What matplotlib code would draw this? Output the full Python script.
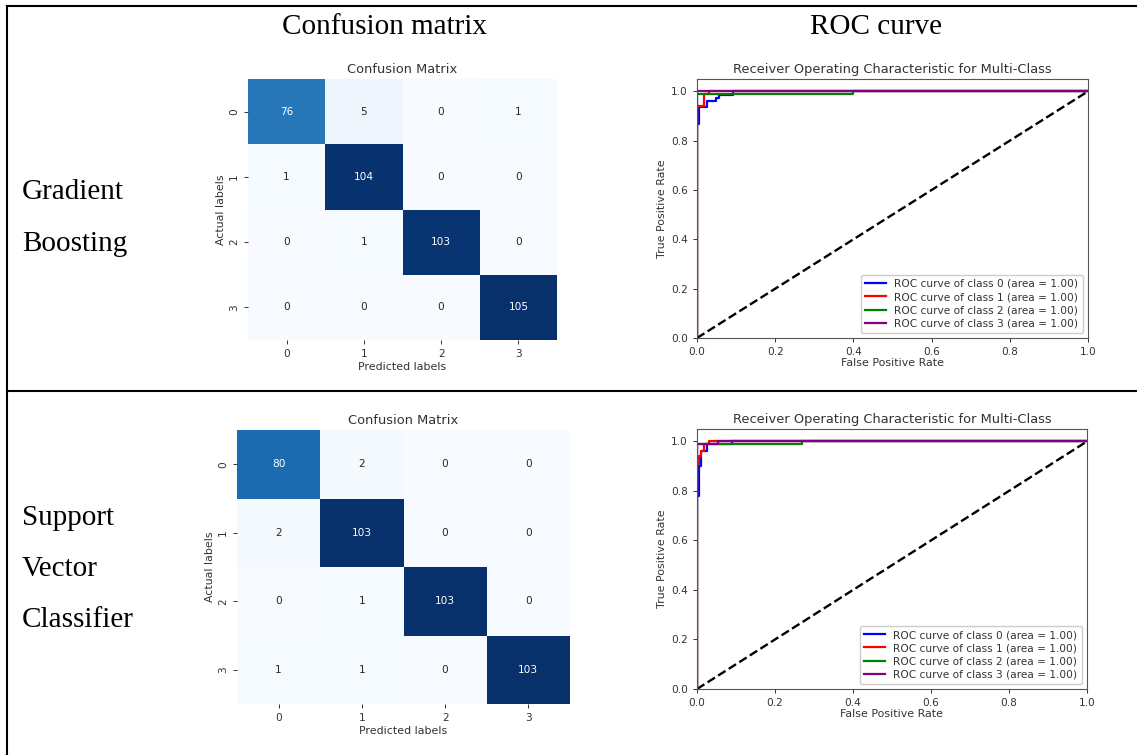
import numpy as np
import matplotlib
matplotlib.use("Agg")
import matplotlib.pyplot as plt
import seaborn as sns
from matplotlib.lines import Line2D

W, H = 1137, 755

# Table text
column_headers = ["Confusion matrix", "ROC curve"]
row_gb_words = ["Gradient", "Boosting"]
row_svc_words = ["Support", "Vector", "Classifier"]

# Class labels
classes = [0, 1, 2, 3]

# Confusion matrices (rows: actual, cols: predicted)
gb_cm = [[76, 5, 0, 1],
         [1, 104, 0, 0],
         [0, 1, 103, 0],
         [0, 0, 0, 105]]
svc_cm = [[80, 2, 0, 0],
          [2, 103, 0, 0],
          [0, 1, 103, 0],
          [1, 1, 0, 103]]

# ROC curves, Gradient Boosting
gb_fpr_0 = [0.0, 0.0, 0.004, 0.004, 0.025, 0.025, 0.048, 0.048, 0.055, 0.055, 0.092, 0.092, 1.0]
gb_tpr_0 = [0.0, 0.866, 0.866, 0.935, 0.935, 0.962, 0.962, 0.975, 0.975, 0.987, 0.987, 1.0, 1.0]
gb_fpr_1 = [0.0, 0.0, 0.018, 0.018, 0.03, 0.03, 1.0]
gb_tpr_1 = [0.0, 0.94, 0.94, 0.99, 0.99, 1.0, 1.0]
gb_fpr_2 = [0.0, 0.0, 0.40, 0.40, 1.0]
gb_tpr_2 = [0.0, 0.99, 0.99, 1.0, 1.0]
gb_fpr_3 = [0.0, 0.0, 1.0]
gb_tpr_3 = [0.0, 1.0, 1.0]

# ROC curves, Support Vector Classifier
svc_fpr_0 = [0.0, 0.0, 0.005, 0.005, 0.01, 0.01, 0.025, 0.025, 0.09, 0.09, 1.0]
svc_tpr_0 = [0.0, 0.78, 0.78, 0.90, 0.90, 0.96, 0.96, 0.99, 0.99, 1.0, 1.0]
svc_fpr_1 = [0.0, 0.0, 0.004, 0.004, 0.009, 0.009, 0.018, 0.018, 0.03, 0.03, 1.0]
svc_tpr_1 = [0.0, 0.91, 0.91, 0.94, 0.94, 0.96, 0.96, 0.99, 0.99, 1.0, 1.0]
svc_fpr_2 = [0.0, 0.0, 0.27, 0.27, 1.0]
svc_tpr_2 = [0.0, 0.99, 0.99, 1.0, 1.0]
svc_fpr_3 = [0.0, 0.0, 0.055, 0.055, 1.0]
svc_tpr_3 = [0.0, 0.99, 0.99, 1.0, 1.0]

roc_colors = ["blue", "red", "green", "purple"]
TEXT = "#333333"


def px_axes(fig, x0, y0, x1, y1):
    return fig.add_axes([x0 / W, 1 - y1 / H, (x1 - x0) / W, (y1 - y0) / H])


def draw_cm(ax, cm):
    sns.heatmap(np.array(cm), annot=True, fmt="d", cmap="Blues", cbar=False,
                ax=ax, annot_kws={"fontsize": 7.6})
    ax.set_xticklabels(classes, fontsize=7.6, color=TEXT)
    ax.set_yticklabels(classes, fontsize=7.6, color=TEXT, rotation=90, va="center")
    ax.tick_params(colors=TEXT, length=3, width=0.7)
    ax.set_title("Confusion Matrix", fontsize=9.4, color=TEXT, pad=4)
    ax.set_xlabel("Predicted labels", fontsize=7.9, color=TEXT, labelpad=2)
    ax.set_ylabel("Actual labels", fontsize=7.9, color=TEXT, labelpad=2)


def draw_roc(ax, curves):
    for i, (fpr, tpr) in enumerate(curves):
        auc = np.trapezoid(tpr, fpr)
        ax.plot(fpr, tpr, color=roc_colors[i], lw=1.6,
                label=f"ROC curve of class {classes[i]} (area = {auc:.2f})")
    ax.plot([0, 1], [0, 1], "k--", lw=1.7)
    ax.set_xlim(0.0, 1.0)
    ax.set_ylim(0.0, 1.05)
    ax.set_xticks(np.arange(0, 1.01, 0.2))
    ax.set_yticks(np.arange(0, 1.01, 0.2))
    ax.tick_params(labelsize=7.6, colors=TEXT, length=3, width=0.7)
    for sp in ax.spines.values():
        sp.set_color("#555555")
        sp.set_linewidth(0.8)
    ax.set_title("Receiver Operating Characteristic for Multi-Class",
                 fontsize=9.4, color=TEXT, pad=4)
    ax.set_xlabel("False Positive Rate", fontsize=7.9, color=TEXT, labelpad=1)
    ax.set_ylabel("True Positive Rate", fontsize=7.9, color=TEXT, labelpad=3)
    leg = ax.legend(loc="lower right", fontsize=7.6, handlelength=2.0,
                    borderpad=0.4, labelspacing=0.3, framealpha=1.0)
    for t in leg.get_texts():
        t.set_color(TEXT)


fig = plt.figure(figsize=(W / 100, H / 100), dpi=100)

# Table rules
serif = ["Liberation Serif", "DejaVu Serif"]
fig.add_artist(Line2D([7 / W, 7 / W], [0, 1 - 6 / H], transform=fig.transFigure,
                      color="black", lw=1.5))
fig.add_artist(Line2D([7 / W, 1], [1 - 6 / H, 1 - 6 / H], transform=fig.transFigure,
                      color="black", lw=1.5))
fig.add_artist(Line2D([7 / W, 1], [1 - 391 / H, 1 - 391 / H], transform=fig.transFigure,
                      color="black", lw=1.5))

# Column headers
fig.text(385 / W, 1 - 27 / H, column_headers[0], ha="center", va="center",
         fontsize=21, family=serif)
fig.text(876 / W, 1 - 27 / H, column_headers[1], ha="center", va="center",
         fontsize=21, family=serif)

# Row labels
for word, y in zip(row_gb_words, [192, 244]):
    fig.text(22 / W, 1 - y / H, word, ha="left", va="center", fontsize=21, family=serif)
for word, y in zip(row_svc_words, [518, 569, 620]):
    fig.text(22 / W, 1 - y / H, word, ha="left", va="center", fontsize=21, family=serif)

# Gradient Boosting row
ax_cm1 = px_axes(fig, 248, 79, 557, 340)
draw_cm(ax_cm1, gb_cm)
ax_roc1 = px_axes(fig, 697, 79, 1088, 338)
draw_roc(ax_roc1, [(gb_fpr_0, gb_tpr_0), (gb_fpr_1, gb_tpr_1),
                   (gb_fpr_2, gb_tpr_2), (gb_fpr_3, gb_tpr_3)])

# Support Vector Classifier row
ax_cm2 = px_axes(fig, 237, 430, 570, 704)
draw_cm(ax_cm2, svc_cm)
ax_roc2 = px_axes(fig, 697, 429, 1087, 689)
draw_roc(ax_roc2, [(svc_fpr_0, svc_tpr_0), (svc_fpr_1, svc_tpr_1),
                   (svc_fpr_2, svc_tpr_2), (svc_fpr_3, svc_tpr_3)])

fig.savefig("out.png", dpi=100)
